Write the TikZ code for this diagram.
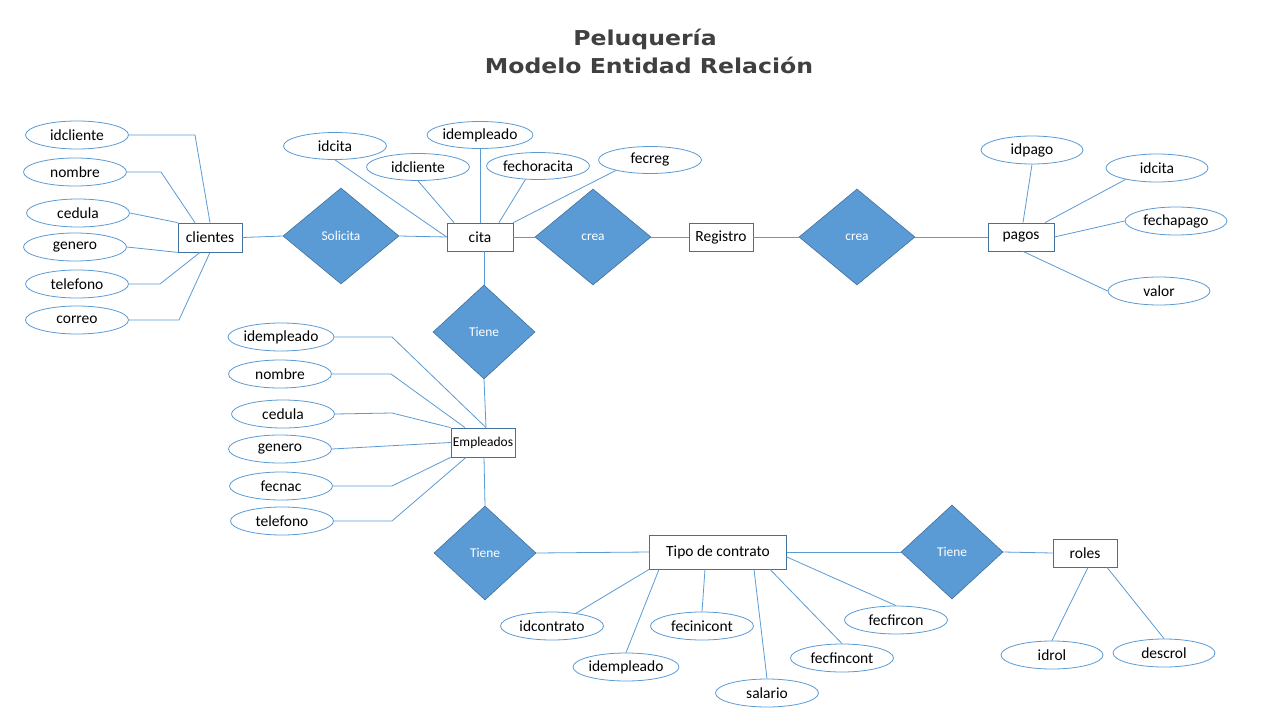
\documentclass[tikz,border=0pt]{standalone}
\usepackage{fontspec}
\setmainfont{Carlito}
\newfontfamily\titlefont{DejaVu Sans}
\usetikzlibrary{shapes.geometric,calc}
\definecolor{relfill}{HTML}{5B9BD5}
\definecolor{relb}{HTML}{41719C}
\definecolor{entb}{HTML}{41719C}
\definecolor{connc}{HTML}{5B9BD5}
\definecolor{titlegray}{HTML}{404040}
\begin{document}
\begin{tikzpicture}[x=1pt,y=-1pt,
  ent/.style={draw=entb,line width=0.8pt,fill=white,inner sep=0pt,minimum height=28pt,minimum width=64pt,font=\fontsize{15.5}{18}\selectfont},
  att/.style={ellipse,draw=connc,line width=0.8pt,fill=white,inner sep=0pt,minimum width=103pt,minimum height=28pt,font=\fontsize{15.5}{18}\selectfont},
  rel/.style={diamond,draw=relb,line width=0.6pt,fill=relfill,inner sep=0pt,text=white,font=\fontsize{13.4}{16}\selectfont,minimum width=116pt,minimum height=96pt},
  smallrel/.style={rel,minimum width=102pt,minimum height=94pt},
  conn/.style={draw=connc,line width=0.8pt},
  ttl/.style={anchor=base,text=titlegray,font=\titlefont\bfseries\fontsize{20.5}{24}\selectfont}]
\useasboundingbox (0,0) rectangle (1280,720);
\fill[white] (0,0) rectangle (1280,720);

% title
\node[ttl] (t1) at (645,45) {\scalebox{1.15}[1]{Peluquería}};
\node[ttl] (t2) at (649,73) {\scalebox{1.15}[1]{Modelo Entidad Relación}};

% entities
\node[ent,minimum height=29pt] (clientes) at (210,237.5) {clientes};
\node[ent,minimum width=66pt] (cita) at (480,237) {cita};
\node[ent] (registro) at (721,237) {Registro};
\node[ent,minimum width=66pt] (pagos) at (1021,237) {pagos};
\node[ent,minimum height=29pt,font=\fontsize{13.5}{16}\selectfont] (empleados) at (483,442.5) {Empleados};
\node[ent,minimum width=137pt,minimum height=34pt] (tipo) at (718,552) {Tipo de contrato};
\node[ent] (roles) at (1085,553) {roles};

% relations
\node[rel] (solicita) at (341,236) {Solicita};
\node[rel] (crea1) at (593,237) {crea};
\node[rel] (crea2) at (857,237) {crea};
\node[smallrel] (tiene1) at (484,332) {Tiene};
\node[smallrel] (tiene2) at (485,553) {Tiene};
\node[smallrel] (tiene3) at (952,552) {Tiene};

% clientes attributes
\node[att] (ac1) at (77,135) {idcliente};
\node[att] (ac2) at (75,172) {nombre};
\node[att] (ac3) at (78,213) {cedula};
\node[att] (ac4) at (75,247) {genero};
\node[att] (ac5) at (77,284) {telefono};
\node[att] (ac6) at (77,320) {correo};

% cita attributes
\node[att,minimum height=27pt] (b1) at (335,146) {idcita};
\node[att,minimum height=27pt] (b2) at (418,167) {idcliente};
\node[att,minimum height=27pt] (b3) at (480,135) {idempleado};
\node[att,minimum height=27pt] (b4) at (538,166) {fechoracita};
\node[att,minimum height=27pt] (b5) at (650,160) {fecreg};

% pagos attributes
\node[att,minimum width=102pt] (p1) at (1032,150) {idpago};
\node[att,minimum width=102pt] (p2) at (1157,168) {idcita};
\node[att,minimum width=102pt] (p3) at (1176,221) {fechapago};
\node[att,minimum width=102pt] (p4) at (1159,291) {valor};

% empleados attributes
\node[att] (e1) at (281,337) {idempleado};
\node[att] (e2) at (280,374) {nombre};
\node[att] (e3) at (283,414) {cedula};
\node[att] (e4) at (280,449) {genero};
\node[att] (e5) at (281,486) {fecnac};
\node[att] (e6) at (282,521) {telefono};

% tipo de contrato attributes
\node[att] (k1) at (552,626) {idcontrato};
\node[att] (k2) at (626,667) {idempleado};
\node[att] (k3) at (702,626) {fecinicont};
\node[att] (k4) at (767,693) {salario};
\node[att] (k5) at (842,658) {fecfincont};
\node[att] (k6) at (896,620) {fecfircon};

% roles attributes
\node[att,minimum width=102pt] (r1) at (1052,655) {idrol};
\node[att,minimum width=102pt] (r2) at (1164,653) {descrol};

% relationship connectors
\draw[conn] (clientes.east) -- (solicita.west);
\draw[conn] (solicita.east) -- (cita.west);
\draw[conn] (cita.east) -- (crea1.west);
\draw[conn] (crea1.east) -- (registro.west);
\draw[conn] (registro.east) -- (crea2.west);
\draw[conn] (crea2.east) -- (pagos.west);
\draw[conn] ([xshift=4pt]cita.south) -- (tiene1.north);
\draw[conn] (tiene1.south) -- ([xshift=3pt]empleados.north);
\draw[conn] ([xshift=1pt]empleados.south) -- (tiene2.north);
\draw[conn] (tiene2.east) -- (tipo.west);
\draw[conn] (tipo.east) -- (tiene3.west);
\draw[conn] (tiene3.east) -- (roles.west);

% clientes attribute connectors
\draw[conn] (ac1.east) -- (195,135) -- (clientes.north);
\draw[conn] (ac2.east) -- (161,172) -- ([xshift=-15pt]clientes.north);
\draw[conn] (ac3.east) -- (clientes.north west);
\draw[conn] (ac4.east) -- (clientes.south west);
\draw[conn] (ac5.east) -- (160,284) -- ([xshift=-10pt]clientes.south);
\draw[conn] (ac6.east) -- (179,320) -- (clientes.south);

% cita attribute connectors
\draw[conn] (b1.south) -- (cita.west);
\draw[conn] (b2.south) -- ([xshift=-26pt]cita.north);
\draw[conn] (b3.south) -- (cita.north);
\draw[conn] (b4.-133) -- ([xshift=19pt]cita.north);
\draw[conn] (b5.197) -- (cita.north east);

% pagos attribute connectors
\draw[conn] (p1.south) -- ([xshift=2pt]pagos.north);
\draw[conn] (p2.200) -- ([xshift=24pt]pagos.north);
\draw[conn] (p3.west) -- (pagos.east);
\draw[conn] (p4.west) -- ([xshift=2pt]pagos.south);

% empleados attribute connectors
\draw[conn] (e1.east) -- (392,337) -- ([xshift=3pt]empleados.north);
\draw[conn] (e2.east) -- (391,374) -- ([xshift=-18pt]empleados.north);
\draw[conn] (e3.east) -- (392,413) -- (empleados.north west);
\draw[conn] (e4.east) -- (empleados.west);
\draw[conn] (e5.east) -- (392,486) -- (empleados.south west);
\draw[conn] (e6.east) -- (392,521) -- ([xshift=-17pt]empleados.south);

% tipo de contrato attribute connectors
\draw[conn] (k1.28) -- (tipo.south west);
\draw[conn] (k2.north) -- ([xshift=-59pt]tipo.south);
\draw[conn] (k3.north) -- ([xshift=-13pt]tipo.south);
\draw[conn] (k4.north) -- ([xshift=36pt]tipo.south);
\draw[conn] (k5.north) -- ([xshift=52pt]tipo.south);
\draw[conn] (k6.north) -- ([yshift=-5pt]tipo.east);

% roles attribute connectors
\draw[conn] (r1.north) -- ([xshift=3pt]roles.south);
\draw[conn] (r2.north) -- ([xshift=22pt]roles.south);
\end{tikzpicture}
\end{document}
